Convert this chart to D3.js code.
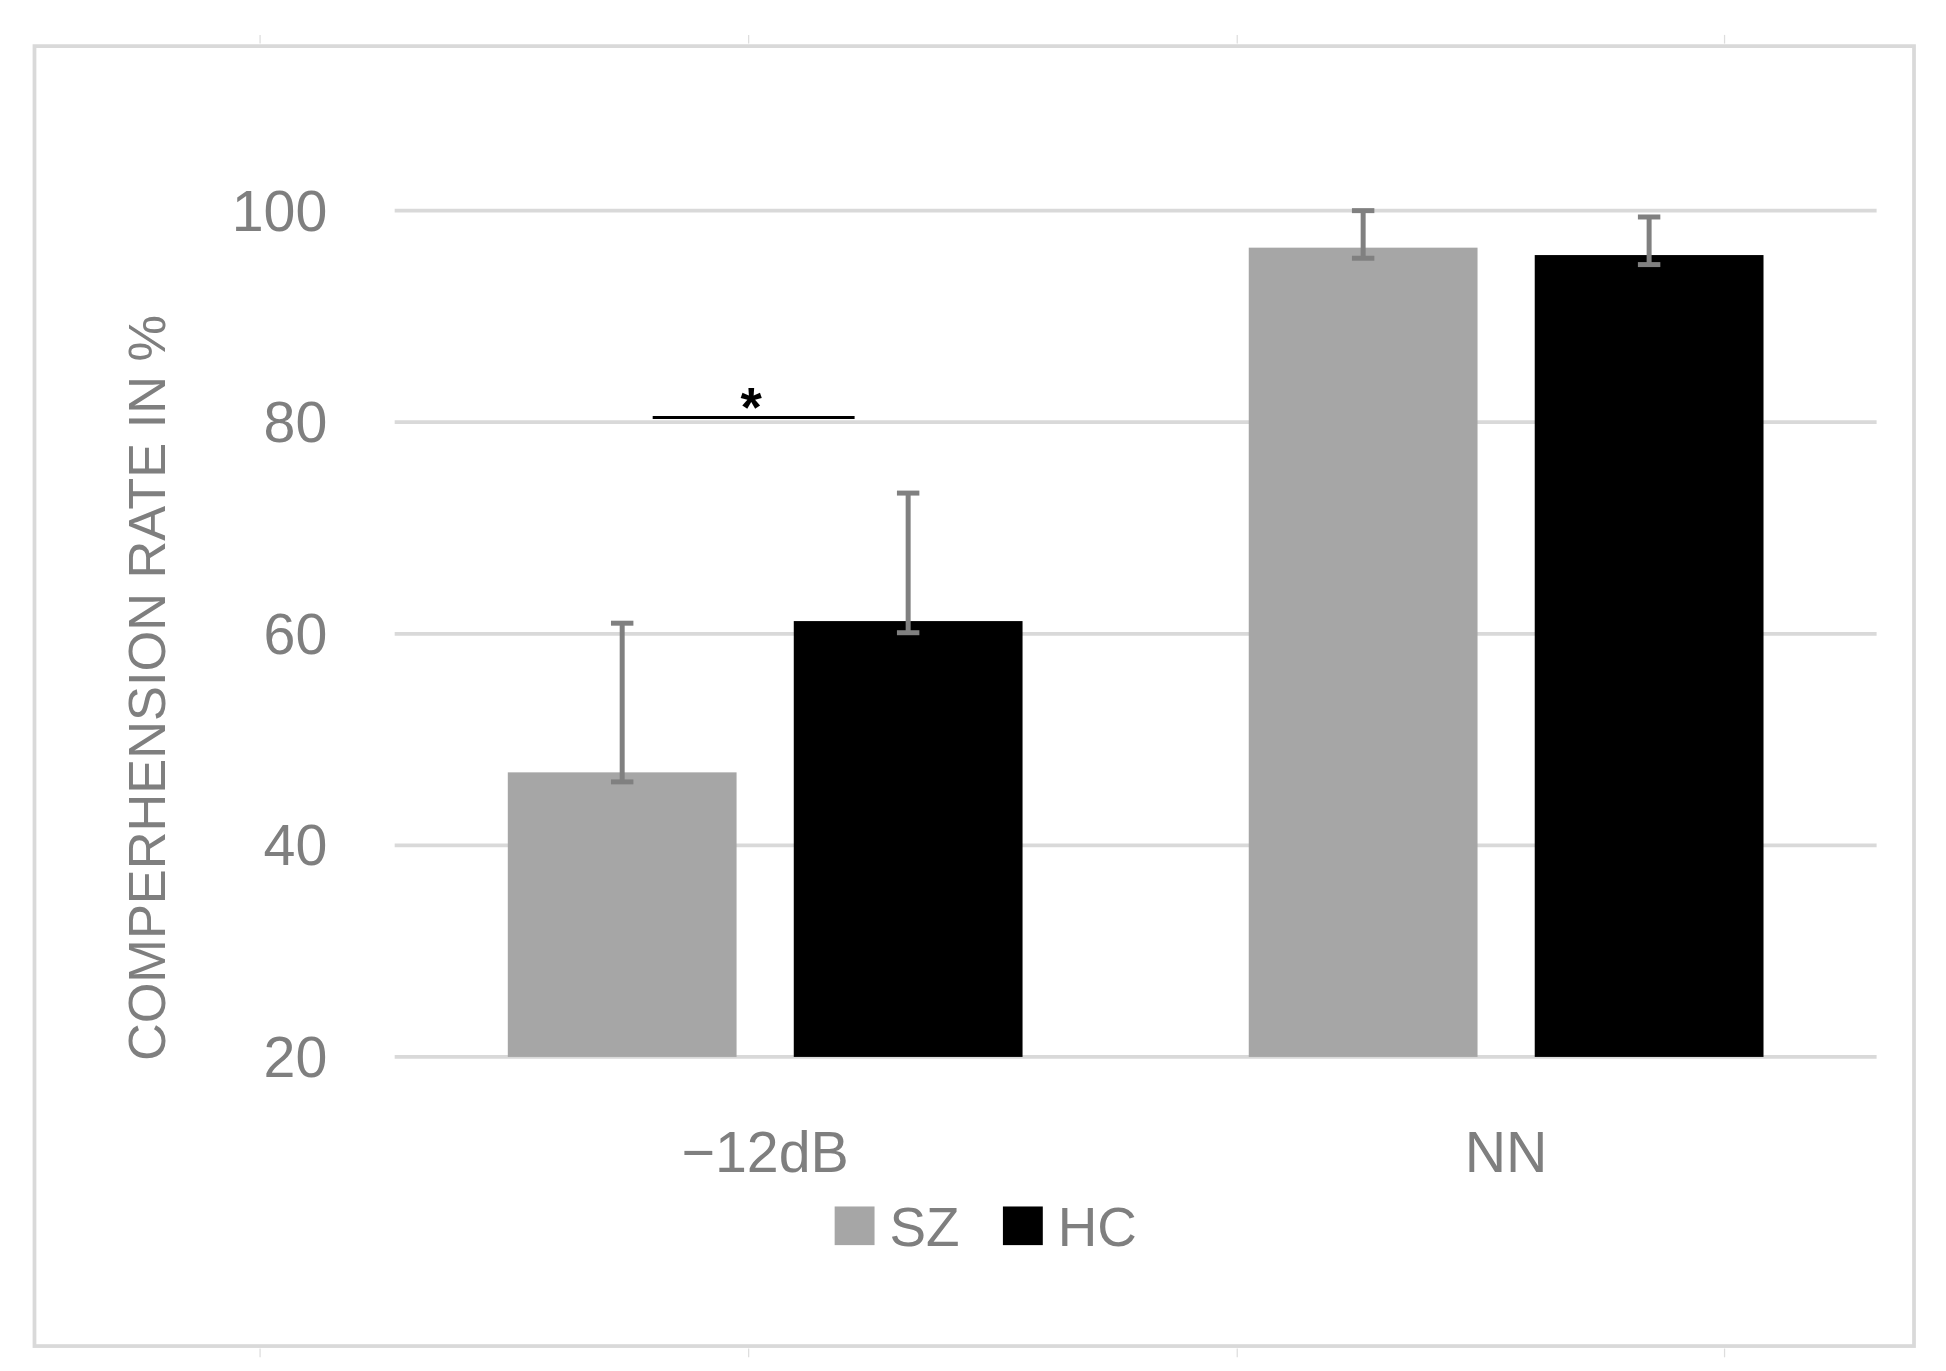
<!DOCTYPE html>
<html>
<head>
<meta charset="utf-8">
<script src="https://cdn.jsdelivr.net/npm/d3@7"></script>
<style>
  html, body { margin: 0; padding: 0; background: #fff; }
  svg { display: block; }
</style>
</head>
<body>
<div id="chart"></div>
<script>
// chart data
const categories = ["\u221212dB", "NN"];
const groups = ["SZ", "HC"];
const szValues = [46.9, 96.5];
const hcValues = [61.2, 95.8];
const szErrLow = [46.0, 95.5];
const szErrHigh = [61.0, 100.0];
const hcErrLow = [60.1, 94.9];
const hcErrHigh = [73.3, 99.4];
const yTicks = [20, 40, 60, 80, 100];

const colors = { SZ: "#a6a6a6", HC: "#000000" };
const font = "'Liberation Sans Narrow', 'Liberation Sans', Arial, sans-serif";

// drawn in the reference's native 1560x1100 space, scaled to the window
const W = 1560, H = 1100;
const svg = d3.select("#chart").append("svg")
  .attr("width", 1946).attr("height", 1371)
  .attr("viewBox", [0, 0, W, H]);

// outer frame + crop marks
svg.append("rect").attr("x", 27).attr("y", 37).attr("width", 1508).attr("height", 1043)
  .attr("fill", "none").attr("stroke", "#d9d9d9").attr("stroke-width", 3);
[208, 600, 992, 1383].forEach(x => {
  svg.append("line").attr("x1", x).attr("x2", x).attr("y1", 28).attr("y2", 35).attr("stroke", "#ddd");
  svg.append("line").attr("x1", x).attr("x2", x).attr("y1", 1082).attr("y2", 1089).attr("stroke", "#ddd");
});

const x0 = d3.scaleBand().domain(categories).range([316, 1505]);
const x1 = d3.scaleBand().domain(groups).range([0, 413]).paddingInner(0.2);
const y = d3.scaleLinear().domain([20, 100]).range([848, 169]);

// gridlines
svg.append("g").selectAll("line").data(yTicks).join("line")
  .attr("x1", 316).attr("x2", 1505)
  .attr("y1", d => y(d)).attr("y2", d => y(d))
  .attr("stroke", "#d9d9d9").attr("stroke-width", 3);

// y tick labels
svg.append("g").selectAll("text").data(yTicks).join("text")
  .attr("x", 262).attr("y", d => y(d)).attr("dy", "0.35em")
  .attr("text-anchor", "end").attr("fill", "#7f7f7f")
  .style("font", `46px ${font}`).text(d => d);

// y axis title
svg.append("text")
  .attr("transform", "translate(132,552) rotate(-90)")
  .attr("text-anchor", "middle").attr("fill", "#7f7f7f")
  .style("font", `42px ${font}`).text("COMPERHENSION RATE IN %");

const rows = categories.map((c, i) => ({
  cat: c,
  bars: [
    { g: "SZ", v: szValues[i], lo: szErrLow[i], hi: szErrHigh[i] },
    { g: "HC", v: hcValues[i], lo: hcErrLow[i], hi: hcErrHigh[i] }
  ]
}));

const catG = svg.append("g").selectAll("g").data(rows).join("g")
  .attr("transform", d => `translate(${x0(d.cat) + (x0.bandwidth() - 413) / 2},0)`);

catG.selectAll("rect").data(d => d.bars).join("rect")
  .attr("x", d => x1(d.g)).attr("width", x1.bandwidth())
  .attr("y", d => y(d.v)).attr("height", d => y(20) - y(d.v))
  .attr("fill", d => colors[d.g]);

// error bars
const eb = catG.selectAll("g.err").data(d => d.bars).join("g").attr("class", "err")
  .attr("stroke", "#808080").attr("stroke-width", 4);
eb.append("line")
  .attr("x1", d => x1(d.g) + x1.bandwidth() / 2).attr("x2", d => x1(d.g) + x1.bandwidth() / 2)
  .attr("y1", d => y(d.lo)).attr("y2", d => y(d.hi));
["lo", "hi"].forEach(k => {
  eb.append("line")
    .attr("x1", d => x1(d.g) + x1.bandwidth() / 2 - 9).attr("x2", d => x1(d.g) + x1.bandwidth() / 2 + 9)
    .attr("y1", d => y(d[k])).attr("y2", d => y(d[k]));
});

// category labels
svg.append("g").selectAll("text").data(categories).join("text")
  .attr("x", d => x0(d) + x0.bandwidth() / 2).attr("y", 940)
  .attr("text-anchor", "middle").attr("fill", "#7f7f7f")
  .style("font", `46px ${font}`).text(d => d);

// significance marker
svg.append("line").attr("x1", 523).attr("x2", 685).attr("y1", 335).attr("y2", 335)
  .attr("stroke", "#000").attr("stroke-width", 2.5);
svg.append("text").attr("x", 602).attr("y", 342).attr("text-anchor", "middle")
  .style("font", `bold 44px ${font}`).text("*");

// legend
const leg = svg.append("g").selectAll("g").data(groups).join("g")
  .attr("transform", (d, i) => `translate(${669 + i * 135},968)`);
leg.append("rect").attr("width", 32).attr("height", 31).attr("fill", d => colors[d]);
leg.append("text").attr("x", 44).attr("y", 16).attr("dy", "0.35em")
  .attr("fill", "#7f7f7f").style("font", `44px ${font}`).text(d => d);
</script>
</body>
</html>
